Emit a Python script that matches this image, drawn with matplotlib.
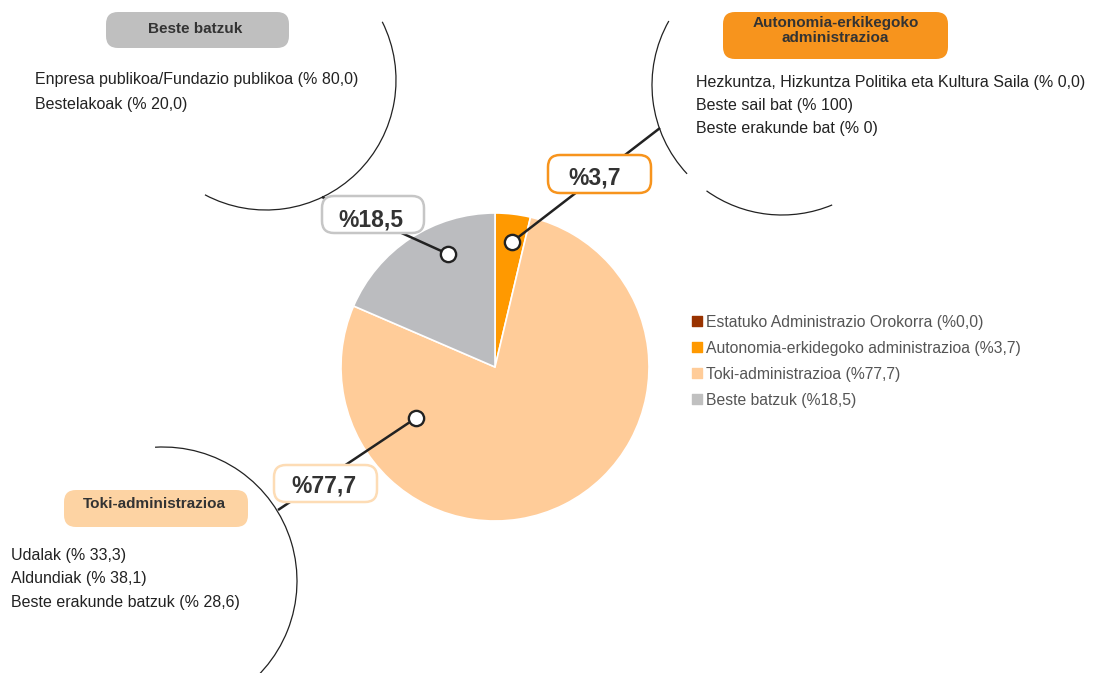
import matplotlib
matplotlib.use('Agg')
import matplotlib.pyplot as plt
from matplotlib.patches import Arc, FancyBboxPatch

plt.rcParams['font.family'] = ['Liberation Sans', 'DejaVu Sans']

# data
categories = ['Estatuko Administrazio Orokorra', 'Autonomia-erkidegoko administrazioa',
              'Toki-administrazioa', 'Beste batzuk']
shares = [0.0, 3.7, 77.7, 18.5]
legend_texts = ['(%0,0)', '(%3,7)', '(%77,7)', '(%18,5)']
slice_colors = ['#993300', '#FF9900', '#FFCC99', '#BBBCBF']
legend_colors = ['#993300', '#FF9900', '#FFCC99', '#C0C0C0']

beste_header = 'Beste batzuk'
beste_lines = ['Enpresa publikoa/Fundazio publikoa (% 80,0)', 'Bestelakoak (% 20,0)']
auto_header = 'Autonomia-erkikegoko\nadministrazioa'
auto_lines = ['Hezkuntza, Hizkuntza Politika eta Kultura Saila (% 0,0)',
              'Beste sail bat (% 100)', 'Beste erakunde bat (% 0)']
toki_header = 'Toki-administrazioa'
toki_lines = ['Udalak (% 33,3)', 'Aldundiak (% 38,1)', 'Beste erakunde batzuk (% 28,6)']

W, H = 1098, 673
def Y(y):
    return H - y

fig = plt.figure(figsize=(10.98, 6.73), dpi=100)
ax = fig.add_axes([0, 0, 1, 1])
ax.pie(shares, colors=slice_colors, startangle=90, counterclock=False,
       center=(495, Y(367)), radius=154,
       wedgeprops=dict(edgecolor='white', linewidth=1.2))
ax.set_xlim(0, W)
ax.set_ylim(0, H)
ax.set_aspect('auto')
ax.axis('off')

# big arcs around the breakdown texts
arc_kw = dict(color='#222222', linewidth=0.9, zorder=2)
ax.add_patch(Arc((266, Y(80)), 260, 260, theta1=-118, theta2=26.6, **arc_kw))
ax.add_patch(Arc((782, Y(85)), 260, 260, theta1=150.5, theta2=223.1, **arc_kw))
ax.add_patch(Arc((782, Y(85)), 260, 260, theta1=234.5, theta2=292.7, **arc_kw))
ax.add_patch(Arc((163, Y(581)), 268, 268, theta1=-60, theta2=93.4, **arc_kw))

# connectors, value boxes and dots
callouts = [
    # dot, arc end, box (x0, y0, x1, y1), edge colour, text pos
    ((512, 242), (660, 128), (548, 155, 651, 193), '#F7941D', (595, 185), 1),
    ((448, 254), (322, 197), (322, 196, 424, 233), '#C6C6C6', (371, 227), 3),
    ((416, 418), (278, 510), (274, 465, 377, 502), '#FDDCB5', (324, 493), 2),
]
for dot, end, box, ec, tpos, idx in callouts:
    ax.plot([dot[0], end[0]], [Y(dot[1]), Y(end[1])], color='#222222', lw=1.8, zorder=3,
            solid_capstyle='butt')
    x0, y0, x1, y1 = box
    ax.add_patch(FancyBboxPatch((x0, Y(y1)), x1 - x0, y1 - y0,
                                boxstyle='round,pad=0,rounding_size=12',
                                facecolor='white', edgecolor=ec, linewidth=1.8, zorder=4))
    lab = '%' + f'{shares[idx]:.1f}'.replace('.', ',')
    ax.text(tpos[0], Y(tpos[1]), lab, ha='center', va='baseline', fontsize=16.5,
            fontweight='bold', color='#333333', zorder=5)
    ax.plot(dot[0], Y(dot[1]), 'o', ms=11, mfc='white', mec='#222222', mew=1.7, zorder=6)

# header boxes
headers = [
    (beste_header, (106, 12, 289, 48), '#BFBFBF', (195.5, 33)),
    (auto_header, (723, 12, 948, 59), '#F7941D', (835.5, 42.5)),
    (toki_header, (64, 490, 248, 527), '#FDD3A3', (154, 507.5)),
]
for txt, (x0, y0, x1, y1), fc, (tx, ty) in headers:
    ax.add_patch(FancyBboxPatch((x0, Y(y1)), x1 - x0, y1 - y0,
                                boxstyle='round,pad=0,rounding_size=12',
                                facecolor=fc, edgecolor='none', zorder=4))
    ax.text(tx, Y(ty), txt, ha='center', va='baseline', fontsize=11, fontweight='bold',
            color='#333333', linespacing=1.1, zorder=5, multialignment='center')

# breakdown texts
for lines, x, y0, step in [(beste_lines, 35, 84, 24.5), (auto_lines, 696, 86.5, 23.5),
                           (toki_lines, 11, 560, 23.5)]:
    for i, line in enumerate(lines):
        ax.text(x, Y(y0 + i * step), line, ha='left', va='baseline', fontsize=11.5,
                color='#222222', zorder=5)

# legend
for i, (cat, pct, col) in enumerate(zip(categories, legend_texts, legend_colors)):
    yc = 321 + i * 26
    ax.scatter(697, Y(yc), marker='s', s=45, color=col, zorder=5)
    ax.text(706, Y(yc + 5.5), f'{cat} {pct}', ha='left', va='baseline', fontsize=11.3,
            color='#555555', zorder=5)

fig.savefig('out.png', dpi=100, facecolor='white')
